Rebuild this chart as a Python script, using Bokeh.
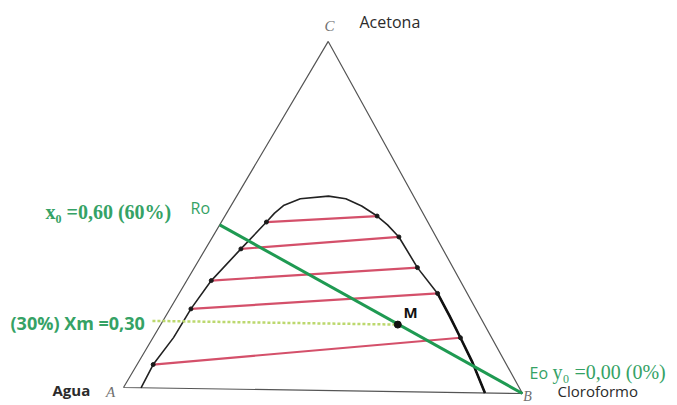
import numpy as np
from bokeh.plotting import figure
from bokeh.models import Range1d, Label
from bokeh.embed import file_html
from bokeh.resources import INLINE

# Ternary compositions as fractions: b = chloroform, c = acetone (water = 1 - b - c)
vertex_b = [0.0, 1.0, 0.0, 0.0]
vertex_c = [0.0, 0.0, 1.0, 0.0]

# Solubility (binodal) curve, water-rich branch up to chloroform-rich branch
binodal_b = [0.044, 0.040, 0.051, 0.052, 0.061, 0.088, 0.112, 0.119, 0.130, 0.162,
             0.228, 0.275, 0.325, 0.378, 0.417, 0.463, 0.554, 0.642, 0.704, 0.764,
             0.830, 0.906]
binodal_c = [0.000, 0.067, 0.145, 0.228, 0.310, 0.402, 0.480, 0.506, 0.528, 0.548,
             0.557, 0.550, 0.530, 0.502, 0.477, 0.443, 0.356, 0.283, 0.220, 0.157,
             0.087, 0.000]

# Tie lines (conjugate phases)
tie_left_b = [0.112, 0.088, 0.061, 0.052, 0.040]
tie_left_c = [0.480, 0.402, 0.310, 0.228, 0.067]
tie_right_b = [0.378, 0.463, 0.554, 0.642, 0.764]
tie_right_c = [0.502, 0.443, 0.356, 0.283, 0.157]

# Feed R0, solvent E0 and mixture M
feed_b, feed_c = 0.0, 0.47
solvent_b, solvent_c = 1.0, 0.0
mix_b, mix_c = 0.589, 0.192

H = 0.875      # vertical scale of the drawn triangle
TILT = 0.01504  # slight clockwise tilt of the diagram


def to_xy(b, c):
    b = np.asarray(b, dtype=float)
    c = np.asarray(c, dtype=float)
    X = b + c / 2.0
    Y = H * c
    x = X * np.cos(TILT) + Y * np.sin(TILT)
    y = -X * np.sin(TILT) + Y * np.cos(TILT)
    return x, y


S = 399.0


def at(xp, yp):
    # page position -> plot coordinates (for annotation placement)
    return (xp - 123) / S, (387 - yp) / S


p = figure(width=677, height=405, output_backend="svg", toolbar_location=None,
           x_range=Range1d(-123 / S, 554 / S), y_range=Range1d(-18 / S, 387 / S),
           min_border=0)
p.axis.visible = False
p.grid.visible = False
p.outline_line_color = None
p.background_fill_color = "white"
p.border_fill_color = "white"

# triangle
tx, ty = to_xy(vertex_b, vertex_c)
p.line(tx, ty, line_color="#555555", line_width=1.2)

# binodal curve
bx, by = to_xy(binodal_b, binodal_c)
p.line(bx, by, line_color="#222222", line_width=1.6)
p.line(bx[-5:], by[-5:], line_color="#111111", line_width=2.6)

# tie lines
lx, ly = to_xy(tie_left_b, tie_left_c)
rx, ry = to_xy(tie_right_b, tie_right_c)
p.segment(lx, ly, rx, ry, line_color="#d4506a", line_width=2.2)
p.scatter(np.r_[lx, rx], np.r_[ly, ry], size=4, color="#1a1a1a")

# mixture guide (dotted) and operating line R0-E0
mx, my = to_xy(mix_b, mix_c)
gx, gy = to_xy(-0.026, mix_c)
p.line([float(gx), float(mx)], [float(gy), float(my)], line_color="#bcd86e",
       line_width=2.5, line_dash="3 2")
fx, fy = to_xy([feed_b, solvent_b], [feed_c, solvent_c])
p.line(fx, fy, line_color="#1f9a52", line_width=3)
p.scatter([float(mx)], [float(my)], size=7, color="#111111")

GREEN = "#35a265"


def label(text, xp, yp, size, color="#2b2b2b", font="Open Sans", style="normal",
          align="left"):
    x, y = at(xp, yp)
    p.add_layout(Label(x=x, y=y, text=text, text_font=font, text_font_size=size,
                       text_color=color, text_font_style=style, text_align=align,
                       text_baseline="middle"))


label("C", 329, 25, "15px", "#707070", "Liberation Serif", "italic", "center")
label("Acetona", 359, 21, "16px")
label("Agua", 52, 389, "15px", style="bold")
label("A", 110, 391, "15px", "#707070", "Liberation Serif", "italic", "center")
label("B", 527, 396, "14px", "#707070", "Liberation Serif", "italic", "center")
label("Cloroformo", 557, 390, "15px")
label("Eo", 529, 372, "16px", GREEN)
label("y\u2080 =0,00 (0%)", 552, 371, "20px", GREEN, "Liberation Serif")
label("x\u2080 =0,60 (60%)", 45, 211, "20px", GREEN, "Liberation Serif", "bold")
label("Ro", 190, 207, "16px", GREEN)
label("(30%) Xm =0,30", 10, 322, "18px", GREEN, style="bold")
label("M", 403, 311, "15px", "#111111", style="bold")

open("out.html", "w").write(file_html(p, INLINE))
